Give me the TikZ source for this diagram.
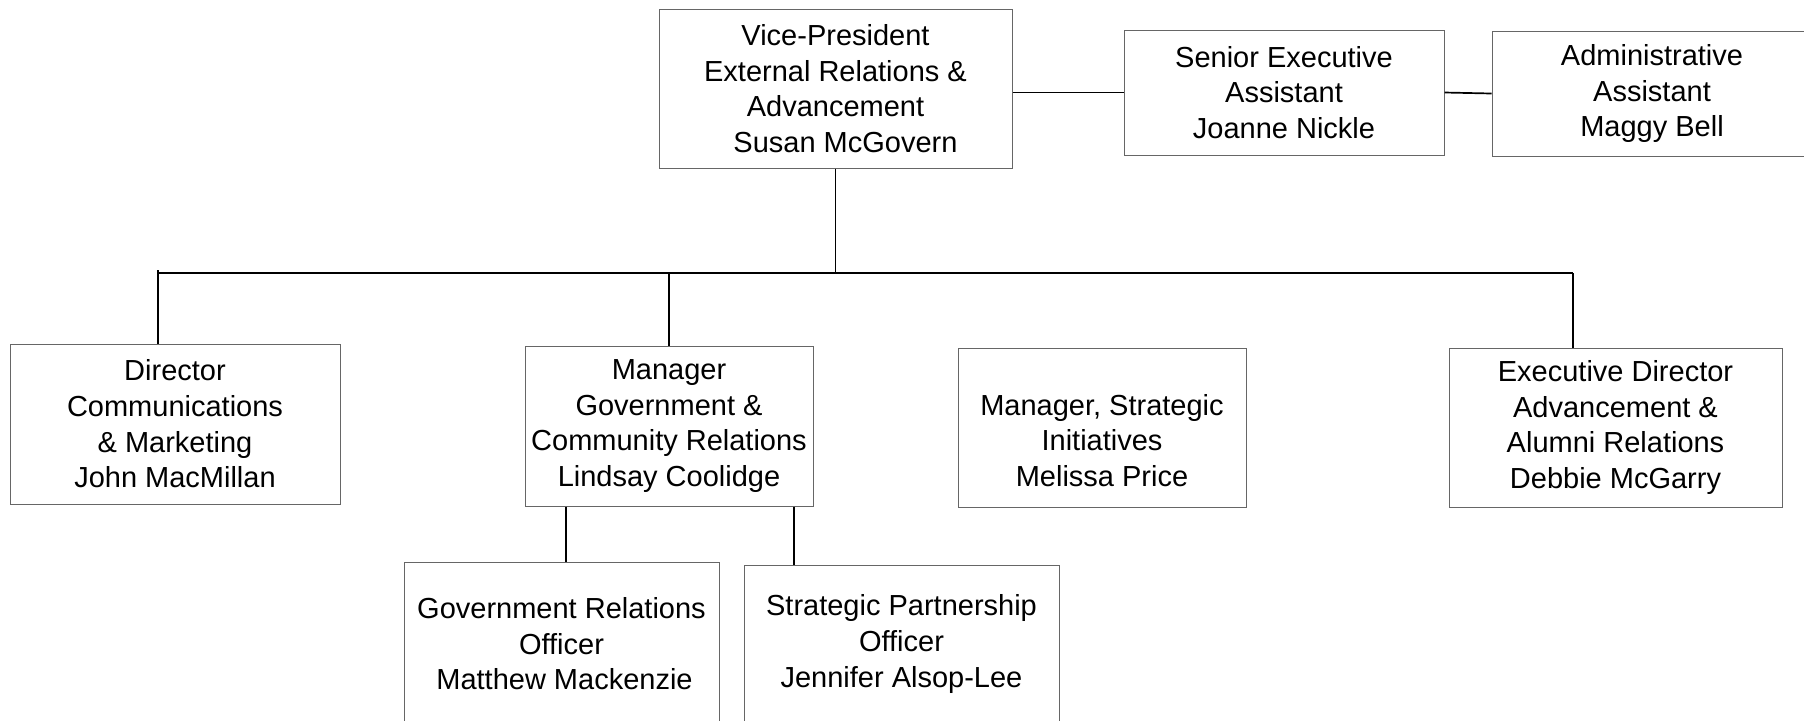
\documentclass[tikz,border=0pt]{standalone}
\usepackage{fontspec}
\setmainfont{Liberation Sans}
\usetikzlibrary{calc}
\tikzset{
  boxfont/.style={font=\fontsize{14.5pt}{17.8pt}\selectfont},
  box/.style={draw=black!60, line width=0.5pt, rectangle, inner sep=0pt, align=center, boxfont},
  link/.style={draw=black, line width=0.85pt}
}
\begin{document}
\begin{tikzpicture}[x=0.5pt, y=-0.5pt]
\clip (0,0) rectangle (1804,720);
\fill[white] (0,0) rectangle (1804,720);
% top level
\node[box, minimum width=176.5pt, minimum height=79.5pt] (vp) at (835.5,88.5)
  {Vice-President\\External Relations \&\\Advancement\\\hspace*{10pt}Susan McGovern};
\node[box, minimum width=160pt, minimum height=62.5pt] (sea) at (1284,92.5)
  {Senior Executive\\Assistant\\Joanne Nickle};
\node[box, minimum width=160pt, minimum height=62.5pt] (aa) at (1652,93.5)
  {Administrative\\Assistant\\Maggy Bell};
% second level
\node[box, minimum width=165pt, minimum height=80pt] (dir) at (175,424)
  {Director\\Communications\\\& Marketing\\John MacMillan};
\node[box, minimum width=144pt, minimum height=80pt] (gcr) at (669,426)
  {Manager\\Government \&\\Community Relations\\Lindsay Coolidge};
\node[box, minimum width=144pt, minimum height=79.5pt,
  label={[boxfont, align=center, inner sep=0pt, yshift=-6.5pt]center:Manager, Strategic\\Initiatives\\Melissa Price}] (si) at (1102,427.5) {};
\node[box, minimum width=166.5pt, minimum height=79.5pt] (ed) at (1615.5,427.5)
  {Executive Director\\Advancement \&\\Alumni Relations\\Debbie McGarry};
% third level
\node[box, minimum width=157.5pt, minimum height=82pt] (gro) at (561.5,644)
  {Government Relations\\Officer\\\hspace*{3pt}Matthew Mackenzie};
\node[box, minimum width=157.5pt, minimum height=79pt] (spo) at (901.5,644)
  {Strategic Partnership\\Officer\\Jennifer Alsop-Lee};
% connectors
\coordinate (bl) at (158,273);
\coordinate (br) at (1573,273);
\draw[link] (vp.east |- sea.west) -- (sea.west);
\draw[link] (sea.east) -- (aa.west);
\draw[link] (vp.south) -- (vp.south |- bl);
\draw[link] ($(bl)+(0,-3)$) -- (bl) -- (br);
\draw[link] (bl) -- (bl |- dir.north);
\draw[link] (gcr.north |- bl) -- (gcr.north);
\draw[link] ($(si.north)+(1.5,0)$ |- bl) -- ($(si.north)+(1.5,0)$);
\draw[link] (br) -- (br |- ed.north);
\coordinate (g1) at ($(gro.north)+(4.5,0)$);
\coordinate (g2) at ($(spo.north)+(-107.5,0)$);
\draw[link] (g1 |- gcr.south) -- (g1);
\draw[link] (g2 |- gcr.south) -- (g2);
\end{tikzpicture}
\end{document}
